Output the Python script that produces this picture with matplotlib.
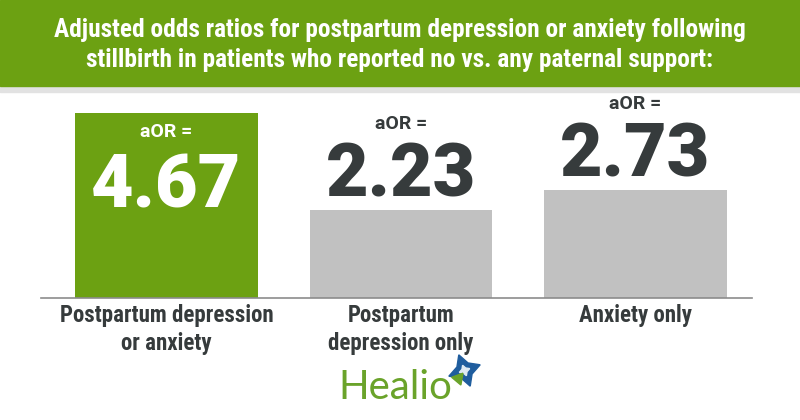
import matplotlib
matplotlib.use('Agg')
import matplotlib.pyplot as plt
from matplotlib.patches import Rectangle
from matplotlib.lines import Line2D

categories = ["Postpartum depression\nor anxiety", "Postpartum\ndepression only", "Anxiety only"]
aor_values = [4.67, 2.23, 2.73]
value_labels = ["4.67", "2.23", "2.73"]
title_text = ("Adjusted odds ratios for postpartum depression or anxiety following\n"
              "stillbirth in patients who reported no vs. any paternal support:")

GREEN = "#6ca112"
GRAY = "#c1c1c1"
DARK = "#363b3c"
NARROW = ['Liberation Sans Narrow', 'Roboto Condensed', 'Roboto', 'DejaVu Sans']
HEAVY = ['Roboto', 'DejaVu Sans']

W, H = 800, 420
fig = plt.figure(figsize=(8, 4.2), dpi=100, facecolor='white')

# header band with shadow strip
fig.add_artist(Rectangle((0, 1 - 92 / H), 1, 7 / H, transform=fig.transFigure,
                         color="#e2e2e2", zorder=0))
fig.add_artist(Rectangle((0, 1 - 86 / H), 1, 86 / H, transform=fig.transFigure,
                         color=GREEN, zorder=1))
fig.text(0.5, 1 - 45 / H, title_text, ha='center', va='center', color='white',
         fontsize=18.3, fontweight='bold', family=NARROW, linespacing=1.28, zorder=2)

# axes: baseline at y=298px, x from 41 to 752px
ax = fig.add_axes([41 / W, (H - 298) / H, 711 / W, 198 / H])
ax.set_xlim(-0.535, 2.497)
ax.set_ylim(0, 5)
for s in ['top', 'left', 'right']:
    ax.spines[s].set_visible(False)
ax.spines['bottom'].set_color('#8c8c8c')
ax.spines['bottom'].set_linewidth(1.2)
ax.set_yticks([])
ax.set_xticks(range(len(categories)))
ax.set_xticklabels(categories, fontsize=16.5, fontweight='bold', family=NARROW,
                   color=DARK, linespacing=1.28, va='top')
ax.tick_params(axis='x', length=0, pad=4)

colors = [GREEN, GRAY, GRAY]
bars = ax.bar(range(len(categories)), aor_values, width=0.78, color=colors, zorder=2)

for i, (b, lab) in enumerate(zip(bars, value_labels)):
    x = b.get_x() + b.get_width() / 2
    top = b.get_height()
    if i == 0:
        ax.annotate("aOR =", (x, top), xytext=(0, -19), textcoords='offset pixels',
                    ha='center', va='center', color='white', fontsize=14,
                    fontweight='bold', family=HEAVY, zorder=3)
        ax.annotate(lab, (x, top), xytext=(0, -94), textcoords='offset pixels',
                    ha='center', va='baseline', color='white', fontsize=53,
                    fontweight='black', family=HEAVY, zorder=3)
    else:
        ax.annotate("aOR =", (x, top), xytext=(0, 86), textcoords='offset pixels',
                    ha='center', va='center', color=DARK, fontsize=14,
                    fontweight='bold', family=HEAVY, zorder=3)
        ax.annotate(lab, (x, top), xytext=(0, 13), textcoords='offset pixels',
                    ha='center', va='baseline', color=DARK, fontsize=53,
                    fontweight='black', family=HEAVY, zorder=3)

# Healio logo
fig.text(395 / W, 1 - 399 / H, "Healio", ha='center', va='baseline', color="#6aa32a",
         fontsize=29, family=['Lato', 'Open Sans', 'DejaVu Sans'])
fig.add_artist(Line2D([464 / W], [1 - 370 / H], transform=fig.transFigure,
                      marker=(4, 1, 20), markersize=24, color="#1f5d9e", lw=0))
fig.add_artist(Line2D([464 / W], [1 - 370 / H], transform=fig.transFigure,
                      marker=(4, 1, 20), markersize=8, color="#dfeaf3", lw=0))
fig.add_artist(Line2D([458 / W], [1 - 378 / H], transform=fig.transFigure,
                      marker=(3, 1, 200), markersize=10, color="#6aa32a", lw=0))

fig.savefig("out.png", dpi=100, facecolor='white')
